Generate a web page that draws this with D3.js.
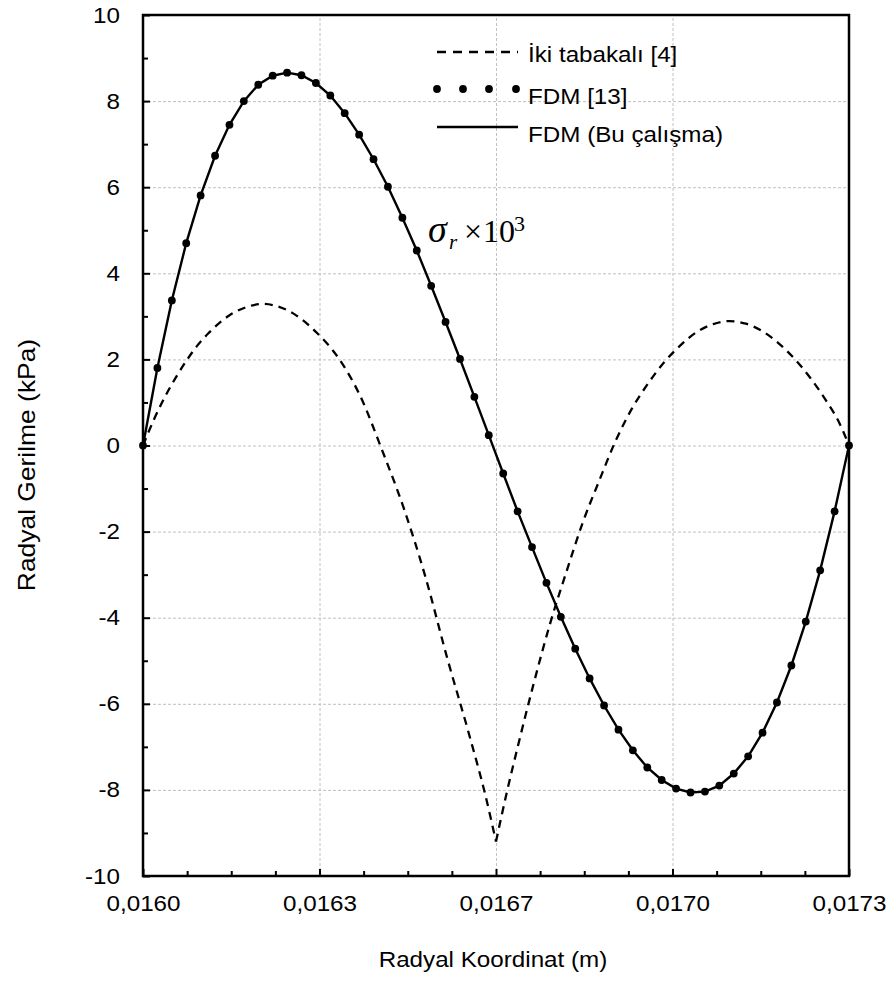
<!DOCTYPE html>
<html>
<head>
<meta charset="utf-8">
<title>Radyal Gerilme</title>
<script src="https://cdnjs.cloudflare.com/ajax/libs/d3/7.8.5/d3.min.js"></script>
<style>
body { margin: 0; background: #fff; }
text { font-family: "Liberation Sans", Arial, sans-serif; fill: #000; }
.tick text { font-size: 22px; }
.grid line { stroke: #c0c0c0; stroke-width: 1; stroke-dasharray: 3,2; }
.grid .domain, .ticks .domain { display: none; }
.ticks line { stroke: #000; stroke-width: 2; }
.title { font-size: 22px; }
.ytitle { font-size: 24px; }
.legend text { font-size: 22px; }
.note { font-family: "Liberation Serif", "Times New Roman", serif; font-size: 32px; }
</style>
</head>
<body>
<svg id="chart" width="896" height="992"></svg>
<script>

// radial nodes of the FDM solution (m)
var radialNodes = [
  0.0160000, 0.0160265, 0.0160531, 0.0160796, 0.0161061, 0.0161327, 0.0161592, 0.0161857, 0.0162122, 0.0162388,
  0.0162653, 0.0162918, 0.0163184, 0.0163449, 0.0163714, 0.0163980, 0.0164245, 0.0164510, 0.0164776, 0.0165041,
  0.0165306, 0.0165571, 0.0165837, 0.0166102, 0.0166367, 0.0166633, 0.0166898, 0.0167163, 0.0167429, 0.0167694,
  0.0167959, 0.0168224, 0.0168490, 0.0168755, 0.0169020, 0.0169286, 0.0169551, 0.0169816, 0.0170082, 0.0170347,
  0.0170612, 0.0170878, 0.0171143, 0.0171408, 0.0171673, 0.0171939, 0.0172204, 0.0172469, 0.0172735, 0.0173000
];

// FDM [13] (markers), kPa
var fdm13 = [
  0, 1.80, 3.37, 4.70, 5.81, 6.73, 7.45, 8.00, 8.38, 8.59,
  8.66, 8.60, 8.42, 8.13, 7.72, 7.22, 6.65, 6.01, 5.29, 4.53,
  3.71, 2.87, 2.01, 1.13, 0.24, -0.65, -1.53, -2.36, -3.19, -3.98,
  -4.72, -5.41, -6.04, -6.60, -7.08, -7.48, -7.77, -7.97, -8.06, -8.04,
  -7.90, -7.62, -7.22, -6.67, -5.97, -5.11, -4.09, -2.90, -1.53, 0
];

// FDM (Bu calisma) falls on top of FDM [13]
var fdmBuCalisma = fdm13;

// Iki tabakali [4]
var ikiX = [
  0.01600, 0.01602, 0.01604, 0.01606, 0.01608, 0.01610, 0.01612, 0.01616, 0.01620, 0.01622,
  0.01624, 0.01628, 0.01632, 0.01636, 0.01640, 0.01644, 0.01648, 0.01652, 0.01656, 0.01660,
  0.01663, 0.01665, 0.01667, 0.01669, 0.01672, 0.01675, 0.01678, 0.01681, 0.01684, 0.01687,
  0.01690, 0.01693, 0.01696, 0.01699, 0.01702, 0.01705, 0.01708, 0.01711, 0.01714, 0.01717,
  0.01720, 0.01723, 0.01726, 0.01728, 0.01730
];
var ikiY = [
  0, 0.60, 1.12, 1.57, 1.97, 2.32, 2.60, 3.03, 3.25, 3.29,
  3.26, 3.04, 2.62, 2.03, 1.15, -0.10, -1.45, -3.05, -4.93, -6.69,
  -8.10, -9.20, -8.05, -7.00, -5.50, -4.12, -2.92, -1.78, -0.82, 0.10,
  0.85, 1.44, 1.94, 2.33, 2.64, 2.82, 2.89, 2.83, 2.66, 2.38,
  2.01, 1.55, 1.00, 0.58, 0
];

var xTicks = [0.016, 0.016325, 0.01665, 0.016975, 0.0173];
var xTickLabels = ["0,0160", "0,0163", "0,0167", "0,0170", "0,0173"];
var yTicks = [-10, -8, -6, -4, -2, 0, 2, 4, 6, 8, 10];
var yMinorTicks = [-9, -7, -5, -3, -1, 1, 3, 5, 7, 9];

var legendLabels = ["\u0130ki tabakal\u0131 [4]", "FDM [13]", "FDM (Bu \u00e7al\u0131\u015fma)"];
var noteAt = [0.016525, 4.72];

var plotLeft = 143, plotRight = 849, plotTop = 15, plotBottom = 876;
var stretch = 1.1;

// text in the picture is a bit wider than Arial, so widen each label
function widen() {
  var w = this.getComputedTextLength();
  this.setAttribute("textLength", w * stretch);
  this.setAttribute("lengthAdjust", "spacingAndGlyphs");
}

var svg = d3.select("#chart");

var x = d3.scaleLinear().domain([0.016, 0.0173]).range([plotLeft, plotRight]);
var y = d3.scaleLinear().domain([-10, 10]).range([plotBottom, plotTop]);

var xMinor = d3.range(0, 17).map(function(i) { return 0.016 + i * 0.00008125; })
  .filter(function(d, i) { return i % 4 !== 0; });

// grid
svg.append("g").attr("class", "grid")
  .attr("transform", "translate(0," + plotBottom + ")")
  .call(d3.axisBottom(x).tickValues(xTicks.slice(1, -1)).tickSize(-(plotBottom - plotTop)).tickFormat(""));
svg.append("g").attr("class", "grid")
  .attr("transform", "translate(" + plotLeft + ",0)")
  .call(d3.axisLeft(y).tickValues(yTicks.slice(1, -1)).tickSize(-(plotRight - plotLeft)).tickFormat(""));

// curves
var line = d3.line()
  .x(function(d) { return x(d[0]); })
  .y(function(d) { return y(d[1]); });

var iki = ikiX.map(function(d, i) { return [d, ikiY[i]]; });
var cusp = d3.minIndex(ikiY);
var dashLine = d3.line()
  .x(function(d) { return x(d[0]); })
  .y(function(d) { return y(d[1]); })
  .curve(d3.curveMonotoneX);

[iki.slice(0, cusp + 1), iki.slice(cusp)].forEach(function(seg) {
  svg.append("path")
    .attr("d", dashLine(seg))
    .attr("fill", "none")
    .attr("stroke", "#000")
    .attr("stroke-width", 2.3)
    .attr("stroke-dasharray", "8,6");
});

var fdm = radialNodes.map(function(d, i) { return [d, fdmBuCalisma[i]]; });
svg.append("path")
  .attr("d", line(fdm))
  .attr("fill", "none")
  .attr("stroke", "#000")
  .attr("stroke-width", 2.4);

svg.append("g").selectAll("circle")
  .data(radialNodes)
  .enter().append("circle")
  .attr("cx", function(d) { return x(d); })
  .attr("cy", function(d, i) { return y(fdm13[i]); })
  .attr("r", 3.9)
  .attr("fill", "#000");

// axes
var gx = svg.append("g").attr("class", "ticks")
  .attr("transform", "translate(0," + plotBottom + ")")
  .call(d3.axisBottom(x).tickValues(xTicks).tickSize(-7).tickPadding(19)
    .tickFormat(function(d, i) { return xTickLabels[i]; }));
gx.selectAll("text").each(widen);

svg.append("g").attr("class", "ticks")
  .attr("transform", "translate(0," + plotBottom + ")")
  .call(d3.axisBottom(x).tickValues(xMinor).tickSize(-5).tickFormat(""));

var gy = svg.append("g").attr("class", "ticks")
  .attr("transform", "translate(" + plotLeft + ",0)")
  .call(d3.axisLeft(y).tickValues(yTicks).tickSize(-7).tickPadding(23)
    .tickFormat(function(d) { return String(d); }));
gy.selectAll("text").each(widen);

svg.append("g").attr("class", "ticks")
  .attr("transform", "translate(" + plotLeft + ",0)")
  .call(d3.axisLeft(y).tickValues(yMinorTicks).tickSize(-5).tickFormat(""));

// frame
svg.append("rect")
  .attr("x", plotLeft).attr("y", plotTop)
  .attr("width", plotRight - plotLeft).attr("height", plotBottom - plotTop)
  .attr("fill", "none").attr("stroke", "#000").attr("stroke-width", 2.5);

// axis titles
svg.append("text").attr("class", "title")
  .attr("x", (plotLeft + plotRight) / 2 - 3).attr("y", 967)
  .style("text-anchor", "middle")
  .text("Radyal Koordinat (m)")
  .each(widen);

svg.append("text").attr("class", "ytitle")
  .attr("transform", "translate(35," + 465 + ") rotate(-90)")
  .style("text-anchor", "middle")
  .text("Radyal Gerilme (kPa)")
  .each(widen);

// sigma note
var nx = x(noteAt[0]), ny = y(noteAt[1]);
var note = svg.append("text").attr("class", "note").attr("x", nx).attr("y", ny);
note.append("tspan").attr("x", nx).style("font-style", "italic").style("font-size", "38px").text("\u03c3");
note.append("tspan").attr("x", nx + 21).attr("dy", 7).style("font-style", "italic").style("font-size", "21px").text("r");
note.append("tspan").attr("x", nx + 36).attr("dy", -7).text("\u00d7");
note.append("tspan").attr("x", nx + 55).text("10");
note.append("tspan").attr("x", nx + 86).attr("dy", -11).style("font-size", "22px").text("3");

// legend
var lg = svg.append("g").attr("class", "legend");
var rowY = [52, 89, 127];
var textY = [62, 104, 142];

lg.append("line").attr("x1", 437).attr("x2", 518).attr("y1", rowY[0]).attr("y2", rowY[0])
  .attr("stroke", "#000").attr("stroke-width", 2.3).attr("stroke-dasharray", "9,7");
lg.selectAll("circle").data([437, 463, 489, 516]).enter().append("circle")
  .attr("cx", function(d) { return d; }).attr("cy", rowY[1]).attr("r", 3.9).attr("fill", "#000");
lg.append("line").attr("x1", 437).attr("x2", 518).attr("y1", rowY[2]).attr("y2", rowY[2])
  .attr("stroke", "#000").attr("stroke-width", 2.4);

lg.selectAll("text").data(legendLabels).enter().append("text")
  .attr("x", 528).attr("y", function(d, i) { return textY[i]; })
  .text(function(d) { return d; })
  .each(widen);

</script>
</body>
</html>
